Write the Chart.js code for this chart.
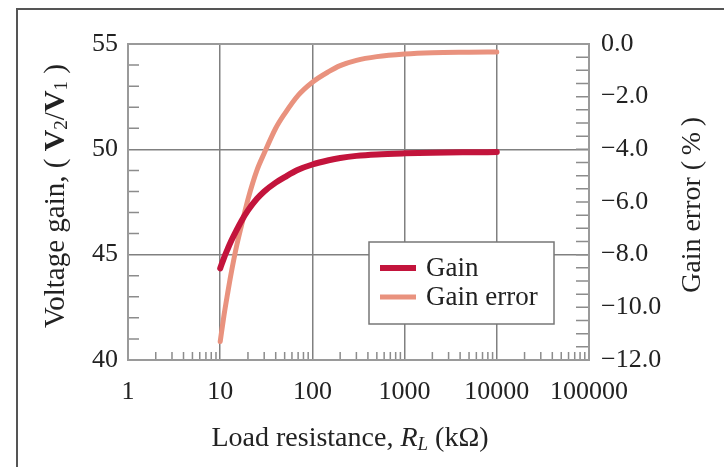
<!DOCTYPE html>
<html>
<head>
<meta charset="utf-8">
<script src="https://cdn.jsdelivr.net/npm/chart.js@4.4.0/dist/chart.umd.min.js"></script>
<style>
    html, body { margin: 0; padding: 0; background: #fff; }
    #frame { position: absolute; left: 16px; top: 8px; width: 708px; height: 459px; border-left: 2px solid #555; border-top: 2px solid #555; box-sizing: border-box; }
    #wrap { position: absolute; left: 0; top: 0; width: 724px; height: 467px; }
</style>
</head>
<body>
<div id="frame"></div>
<div id="wrap"><canvas id="gainChart" width="724" height="467"></canvas></div>
<script>
// values
const loadRes = [10, 11, 12, 13, 15, 17, 20, 25, 30, 40, 50, 70, 100, 150, 200, 300, 500, 1000, 2000, 5000, 10000];
const gainValues = [44.35, 44.85, 45.25, 45.6, 46.15, 46.6, 47.1, 47.65, 48.0, 48.42, 48.68, 49.03, 49.28, 49.48, 49.59, 49.69, 49.76, 49.81, 49.84, 49.86, 49.87];
const gainErrorValues = [-11.3, -10.3, -9.5, -8.8, -7.7, -6.9, -5.9, -4.8, -4.15, -3.2, -2.65, -1.95, -1.45, -1.05, -0.82, -0.62, -0.48, -0.38, -0.33, -0.31, -0.3];
const xTicks = [1, 10, 100, 1000, 10000, 100000];
const gainTicks = [40, 45, 50, 55];
const errorTicks = [0, -2, -4, -6, -8, -10, -12];

const FONT = "'Liberation Serif', 'Times New Roman', serif";
const TEXT = '#222';

// draws a line of mixed-style text centred on (0,0) of the current transform
function drawRich(ctx, parts) {
    let total = 0;
    parts.forEach(p => { ctx.font = p.font; p.w = ctx.measureText(p.t).width; total += p.w; });
    let x = -total / 2;
    parts.forEach(p => {
        ctx.font = p.font;
        ctx.fillText(p.t, x, p.dy || 0);
        x += p.w;
    });
}

const figurePlugin = {
    id: 'figure',
    beforeDatasetsDraw(chart) {
        const { ctx, chartArea: a, scales } = chart;
        ctx.save();
        ctx.strokeStyle = '#8c8c8c';
        ctx.lineWidth = 1.5;
        ctx.beginPath();
        // minor ticks, drawn inward
        for (let d = 1; d < 100000; d *= 10) {
            for (let k = 2; k <= 9; k++) {
                const px = scales.x.getPixelForValue(d * k);
                ctx.moveTo(px, a.bottom);
                ctx.lineTo(px, a.bottom - 8);
            }
        }
        for (let v = 41; v < 55; v++) {
            if (v % 5 === 0) continue;
            const py = scales.y.getPixelForValue(v);
            ctx.moveTo(a.left, py);
            ctx.lineTo(a.left + 11, py);
        }
        for (let v = -11.5; v < 0; v += 0.5) {
            const py = scales.y2.getPixelForValue(v);
            ctx.moveTo(a.right, py);
            ctx.lineTo(a.right - 13, py);
        }
        ctx.stroke();
        ctx.strokeStyle = '#9a9a9a';
        ctx.lineWidth = 2;
        ctx.strokeRect(a.left, a.top, a.right - a.left, a.bottom - a.top);
        ctx.restore();
    },
    afterDraw(chart) {
        const { ctx, chartArea: a } = chart;
        ctx.save();
        ctx.fillStyle = TEXT;
        ctx.textBaseline = 'middle';
        ctx.textAlign = 'left';

        // legend box
        const bx = a.left + 241, by = a.top + 198;
        ctx.fillStyle = '#fff';
        ctx.fillRect(bx, by, 185, 82);
        ctx.strokeStyle = '#777';
        ctx.lineWidth = 1.5;
        ctx.strokeRect(bx, by, 185, 82);
        chart.data.datasets.forEach((ds, i) => {
            const ly = by + 26 + i * 29;
            ctx.strokeStyle = ds.borderColor;
            ctx.lineWidth = ds.borderWidth;
            ctx.beginPath();
            ctx.moveTo(bx + 11, ly);
            ctx.lineTo(bx + 47, ly);
            ctx.stroke();
            ctx.fillStyle = TEXT;
            ctx.font = '27px ' + FONT;
            ctx.fillText(ds.label, bx + 57, ly + 1);
        });

        const n = '28px ' + FONT;
        const nl = '29px ' + FONT;
        const b = 'bold 30px ' + FONT;
        const s = '19px ' + FONT;
        const it = 'italic 28px ' + FONT;
        const its = 'italic 19px ' + FONT;

        // left axis title
        ctx.save();
        ctx.translate(56, 196);
        ctx.rotate(-Math.PI / 2);
        drawRich(ctx, [
            { t: 'Voltage gain, ( ', font: nl },
            { t: 'V', font: b },
            { t: '2', font: s, dy: 6 },
            { t: '/', font: nl },
            { t: 'V', font: b },
            { t: '1', font: s, dy: 6 },
            { t: ' )', font: nl }
        ]);
        ctx.restore();

        // right axis title
        ctx.save();
        ctx.translate(693, 205);
        ctx.rotate(-Math.PI / 2);
        drawRich(ctx, [{ t: 'Gain error (\u2009%\u2009)', font: n }]);
        ctx.restore();

        // bottom axis title
        ctx.save();
        ctx.translate(350, 439);
        drawRich(ctx, [
            { t: 'Load resistance, ', font: n },
            { t: 'R', font: it },
            { t: 'L', font: its, dy: 6 },
            { t: ' (k\u03A9)', font: n }
        ]);
        ctx.restore();

        ctx.restore();
    }
};

const ctx = document.getElementById('gainChart').getContext('2d');

new Chart(ctx, {
    type: 'line',
    data: {
        datasets: [{
            label: 'Gain',
            data: loadRes.map((r, i) => ({ x: r, y: gainValues[i] })),
            yAxisID: 'y',
            borderColor: '#c3143c',
            borderWidth: 6,
            borderCapStyle: 'round',
            pointRadius: 0,
            cubicInterpolationMode: 'monotone',
            fill: false
        }, {
            label: 'Gain error',
            data: loadRes.map((r, i) => ({ x: r, y: gainErrorValues[i] })),
            yAxisID: 'y2',
            borderColor: '#e9927e',
            borderWidth: 5,
            borderCapStyle: 'round',
            pointRadius: 0,
            cubicInterpolationMode: 'monotone',
            fill: false
        }]
    },
    options: {
        responsive: false,
        animation: false,
        layout: { padding: { top: 44, left: 0, right: 0, bottom: 0 } },
        plugins: {
            legend: { display: false },
            tooltip: { enabled: false }
        },
        scales: {
            x: {
                type: 'logarithmic',
                min: 1,
                max: 100000,
                afterBuildTicks: s => { s.ticks = xTicks.map(v => ({ value: v })); },
                afterFit: s => { s.height = 107; },
                ticks: {
                    callback: v => String(v),
                    font: { family: FONT, size: 26 },
                    color: TEXT,
                    padding: 17,
                    maxRotation: 0,
                    autoSkip: false
                },
                grid: {
                    drawTicks: false,
                    lineWidth: 1.5,
                    color: c => (c.tick && (c.tick.value === 1 || c.tick.value === 100000)) ? 'rgba(0,0,0,0)' : '#808080'
                },
                border: { display: false }
            },
            y: {
                position: 'left',
                min: 40,
                max: 55,
                afterBuildTicks: s => { s.ticks = gainTicks.map(v => ({ value: v })); },
                afterFit: s => { s.width = 128; },
                ticks: {
                    font: { family: FONT, size: 26 },
                    color: TEXT,
                    padding: 10
                },
                grid: {
                    drawTicks: false,
                    lineWidth: 1.5,
                    color: c => (c.tick && (c.tick.value === 40 || c.tick.value === 55)) ? 'rgba(0,0,0,0)' : '#808080'
                },
                border: { display: false }
            },
            y2: {
                position: 'right',
                min: -12,
                max: 0,
                afterBuildTicks: s => { s.ticks = errorTicks.map(v => ({ value: v })); },
                afterFit: s => { s.width = 135; },
                ticks: {
                    callback: v => (v < 0 ? '\u2212' : '') + Math.abs(v).toFixed(1),
                    font: { family: FONT, size: 26 },
                    color: TEXT,
                    padding: 12
                },
                grid: { drawOnChartArea: false, drawTicks: false },
                border: { display: false }
            }
        }
    },
    plugins: [figurePlugin]
});
</script>
</body>
</html>
